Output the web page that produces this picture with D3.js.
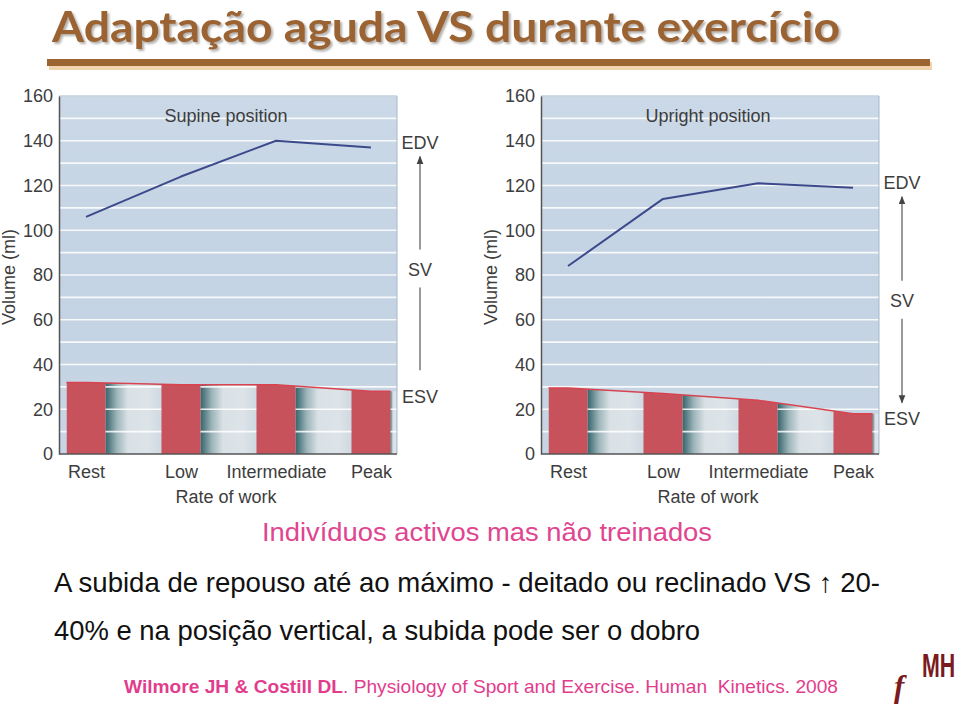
<!DOCTYPE html>
<html><head><meta charset="utf-8">
<script src="https://cdn.jsdelivr.net/npm/d3@7"></script>
<style>body{margin:0;background:#fff} svg{display:block}</style>
</head><body>
<svg id="c" width="960" height="707"></svg>
<script>
// ---------- data ----------
const categories = ["Rest", "Low", "Intermediate", "Peak"];
const yTickValues = [0, 20, 40, 60, 80, 100, 120, 140, 160];
const supineEDV = [106, 124, 140, 137];
const supineESV = [32, 31, 31, 28];
const uprightEDV = [84, 114, 121, 119];
const uprightESV = [29.5, 27, 24, 18];
const panelTitles = ["Supine position", "Upright position"];
const xAxisTitle = "Rate of work";
const yAxisTitle = "Volume (ml)";
const sideLabels = ["EDV", "SV", "ESV"];
const slideTitle = "Adaptação aguda VS durante exercício";
const subtitle = "Indivíduos activos mas não treinados";
const bodyLines = ["A subida de repouso até ao máximo - deitado ou reclinado VS \u2191 20-",
                   "40% e na posição vertical, a subida pode ser o dobro"];
const citeBold = "Wilmore JH & Costill DL";
const citeRest = ". Physiology of Sport and Exercise. Human  Kinetics. 2008";

// ---------- layout ----------
const svg = d3.select("#c");
const FONT = "'Liberation Sans', Arial, Helvetica, sans-serif";
const FS = 18;
const INK = "#3d3d3d";
const plotTop = 96, plotBottom = 454;
const y = d3.scaleLinear().domain([0, 160]).range([plotBottom, plotTop]);
const panels = [
  {left: 59, right: 397, title: panelTitles[0], edv: supineEDV, esv: supineESV, both: false},
  {left: 541, right: 879, title: panelTitles[1], edv: uprightEDV, esv: uprightESV, both: true}
];
const bw = 39;

const defs = svg.append("defs");
const gg = defs.append("linearGradient").attr("id", "gapGrad").attr("x1", 0).attr("x2", 1).attr("y1", 0).attr("y2", 0);
[[0, "#36666c"], [0.06, "#527c82"], [0.2, "#9cb4b9"], [0.4, "#d9e1e5"], [0.75, "#dde4e9"], [1, "#cfd9e1"]]
  .forEach(([o, c]) => gg.append("stop").attr("offset", o).attr("stop-color", c));
const bgGrad = defs.append("linearGradient").attr("id", "bgGrad").attr("x1", 0).attr("x2", 0).attr("y1", 0).attr("y2", 1);
[[0, "#cad8e7"], [0.5, "#c4d3e3"], [1, "#c7d5e4"]]
  .forEach(([o, c]) => bgGrad.append("stop").attr("offset", o).attr("stop-color", c));
defs.append("marker").attr("id", "arr").attr("viewBox", "0 0 10 10").attr("refX", 9).attr("refY", 5)
  .attr("markerWidth", 7).attr("markerHeight", 9).attr("orient", "auto")
  .append("path").attr("d", "M0,1 L10,5 L0,9 z").attr("fill", "#444");
const sh = defs.append("filter").attr("id", "tshadow").attr("x", "-2%").attr("y", "-10%").attr("width", "104%").attr("height", "130%");
sh.append("feDropShadow").attr("dx", 2).attr("dy", 2).attr("stdDeviation", 0.8)
  .attr("flood-color", "#9a948e").attr("flood-opacity", 0.75);

panels.forEach((p, pi) => {
  const g = svg.append("g");
  const x = d3.scalePoint().domain(categories).range([p.left + 27, p.left + 312]);

  g.append("rect").attr("x", p.left).attr("y", plotTop).attr("width", p.right - p.left)
    .attr("height", plotBottom - plotTop).attr("fill", "url(#bgGrad)");

  // ESV profile
  const pts = [[x(categories[0]) - bw / 2, p.esv[0]]]
    .concat(categories.map((c, i) => [x(c), p.esv[i]]))
    .concat([[x(categories[3]) + bw / 2, p.esv[3]], [p.right, p.esv[3]]]);
  const area = d3.area().x(d => d[0]).y0(y(0)).y1(d => y(d[1]));
  defs.append("clipPath").attr("id", "esvClip" + pi).append("path").attr("d", area(pts));

  const gapG = g.append("g").attr("clip-path", `url(#esvClip${pi})`);
  categories.forEach((c, i) => {
    const x0 = x(c) + bw / 2;
    const x1 = i < categories.length - 1 ? x(categories[i + 1]) - bw / 2 : p.right;
    gapG.append("rect").attr("x", x0).attr("y", plotTop).attr("width", x1 - x0)
      .attr("height", plotBottom - plotTop).attr("fill", "url(#gapGrad)");
  });

  // gridlines every 10
  g.append("g").selectAll("line").data(y.ticks(16).filter(v => v > 0)).join("line")
    .attr("x1", p.left).attr("x2", p.right).attr("y1", d => y(d)).attr("y2", d => y(d))
    .attr("stroke", "#ffffff").attr("stroke-opacity", 0.85).attr("stroke-width", 1.6);

  // bars
  const barG = g.append("g").attr("clip-path", `url(#esvClip${pi})`);
  barG.selectAll("rect").data(categories).join("rect")
    .attr("x", c => x(c) - bw / 2).attr("y", plotTop).attr("width", bw).attr("height", plotBottom - plotTop)
    .attr("fill", "#c8525c");

  // red ESV line
  g.append("path").attr("d", d3.line()(pts.slice(0, pts.length - 1).map(d => [d[0], y(d[1])])))
    .attr("fill", "none").attr("stroke", "#d7434f").attr("stroke-width", 1.5);

  // EDV line
  g.append("path").attr("d", d3.line().x((c) => x(c)).y((c, i) => y(p.edv[i]))(categories))
    .attr("fill", "none").attr("stroke", "#3c4a8c").attr("stroke-width", 2).attr("stroke-linejoin", "round");

  // border top/right
  g.append("path").attr("d", `M${p.left},${plotTop}H${p.right}V${plotBottom}`).attr("fill", "none")
    .attr("stroke", "#a8b8c8").attr("stroke-width", 1);

  // axes
  const ya = g.append("g").attr("transform", `translate(${p.left},0)`)
    .call(d3.axisLeft(y).tickValues(yTickValues).tickSize(0).tickPadding(6));
  ya.select(".domain").attr("stroke", "#555").attr("stroke-width", 1.5);
  ya.selectAll("text").attr("font-family", FONT).attr("font-size", FS).attr("fill", INK);

  const xa = g.append("g").attr("transform", `translate(0,${plotBottom})`)
    .call(d3.axisBottom(x).tickSize(0).tickPadding(11));
  xa.select(".domain").remove();
  xa.selectAll("text").attr("font-family", FONT).attr("font-size", FS).attr("fill", INK);
  g.append("line").attr("x1", p.left).attr("x2", p.right).attr("y1", plotBottom).attr("y2", plotBottom)
    .attr("stroke", "#555").attr("stroke-width", 1.5);

  const cx = (p.left + p.right) / 2 - 2;
  g.append("text").attr("x", cx).attr("y", 503).attr("text-anchor", "middle")
    .attr("font-family", FONT).attr("font-size", FS).attr("fill", INK).text(xAxisTitle);
  g.append("text").attr("x", cx).attr("y", 122).attr("text-anchor", "middle")
    .attr("font-family", FONT).attr("font-size", FS).attr("fill", INK).text(p.title);
  g.append("text").attr("transform", `translate(${p.left - 50},277) rotate(-90)`)
    .attr("text-anchor", "middle").attr("dy", "0.35em")
    .attr("font-family", FONT).attr("font-size", FS).attr("fill", INK).text(yAxisTitle);

  // side annotations
  const sx = p.right + 23;
  const edvY = y(p.edv[3]) - 5, esvY = y(p.esv[3]) + 5, svY = (edvY + esvY) / 2;
  [[sideLabels[0], edvY], [sideLabels[1], svY], [sideLabels[2], esvY]].forEach(([t, yy]) => {
    g.append("text").attr("x", sx).attr("y", yy).attr("dy", "0.35em").attr("text-anchor", "middle")
      .attr("font-family", FONT).attr("font-size", FS).attr("fill", INK).text(t);
  });
  g.append("line").attr("x1", sx).attr("x2", sx).attr("y1", svY - 20).attr("y2", edvY + 14)
    .attr("stroke", "#555").attr("stroke-width", 1.2).attr("marker-end", "url(#arr)");
  g.append("line").attr("x1", sx).attr("x2", sx).attr("y1", svY + 18).attr("y2", esvY - (p.both ? 16 : 26))
    .attr("stroke", "#555").attr("stroke-width", 1.2).attr("marker-end", p.both ? "url(#arr)" : null);
});

// ---------- slide title ----------
const tf = "Lato, 'Open Sans', sans-serif";
svg.append("text").attr("x", 52).attr("y", 42).attr("font-family", tf).attr("font-weight", "bold")
  .attr("font-size", 42).attr("fill", "#9c6431").attr("filter", "url(#tshadow)")
  .attr("textLength", 788).attr("lengthAdjust", "spacingAndGlyphs").text(slideTitle);
svg.append("rect").attr("x", 49).attr("y", 62).attr("width", 883).attr("height", 8).attr("fill", "#f1d3ad");
svg.append("rect").attr("x", 47).attr("y", 59).attr("width", 883).attr("height", 7).attr("fill", "#9c6431");

// ---------- text block ----------
svg.append("text").attr("x", 487).attr("y", 541).attr("text-anchor", "middle")
  .attr("font-family", FONT).attr("font-size", 26).attr("fill", "#e0458f")
  .attr("textLength", 450).attr("lengthAdjust", "spacingAndGlyphs").text(subtitle);
svg.append("text").attr("x", 54).attr("y", 592).attr("font-family", FONT).attr("font-size", 27.5)
  .attr("fill", "#111").attr("textLength", 826).attr("lengthAdjust", "spacingAndGlyphs").text(bodyLines[0]);
svg.append("text").attr("x", 54).attr("y", 640).attr("font-family", FONT).attr("font-size", 27.5)
  .attr("fill", "#111").attr("textLength", 646).attr("lengthAdjust", "spacingAndGlyphs").text(bodyLines[1]);
const cite = svg.append("text").attr("x", 124).attr("y", 693).attr("font-family", FONT).attr("font-size", 19)
  .attr("fill", "#e23d8d").style("white-space", "pre")
  .attr("textLength", 714).attr("lengthAdjust", "spacingAndGlyphs");
cite.append("tspan").attr("font-weight", "bold").text(citeBold);
cite.append("tspan").text(citeRest);

// ---------- logo ----------
svg.append("text").attr("x", 894).attr("y", 697).attr("font-family", "'Liberation Serif', serif")
  .attr("font-style", "italic").attr("font-weight", "bold").attr("font-size", 31).attr("fill", "#7a1b1f").text("f");
svg.append("text").attr("transform", "translate(922,677) scale(0.9,1.4)")
  .attr("font-family", FONT).attr("font-weight", "bold").attr("font-size", 24).attr("fill", "#7a1b1f")
  .attr("textLength", 37).attr("lengthAdjust", "spacingAndGlyphs").text("MH");
</script>
</body></html>
